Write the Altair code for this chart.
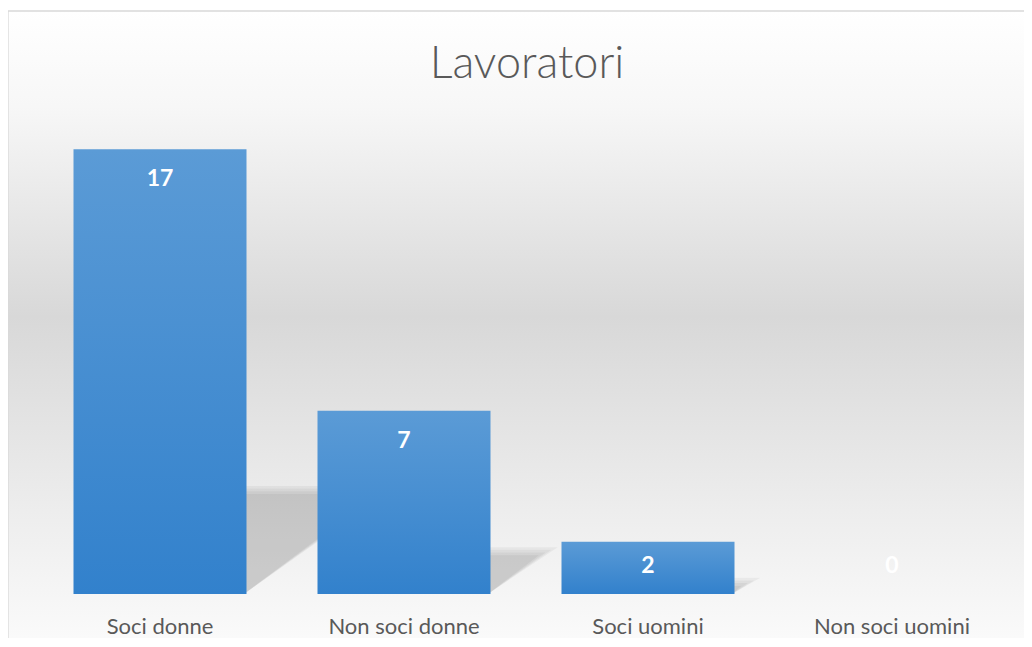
import altair as alt
import pandas as pd

# ---- data ----
categories = ["Soci donne", "Non soci donne", "Soci uomini", "Non soci uomini"]
values = [17, 7, 2, 0]
title_text = "Lavoratori"

# ---- layout constants ----
W, H = 976, 471
PAD_L, PAD_R, PAD_T, PAD_B = 30, 10, 115, 44
Y_MAX = 18
PAD_INNER = 0.291
PPU_Y = H / Y_MAX
PPU_X = W / len(categories)
SHADOW_RATIO = 0.234   # shadow depth relative to bar height
SHADOW_SLANT = 1.35    # horizontal run per unit of shadow depth
BLUR = [-4.0, -1.3, 1.3, 4.0]

df = pd.DataFrame({"cat": categories, "val": values})
# label placement: inside end, but kept above the floor for short bars
df["ly"] = [max(v - 30 / PPU_Y, 28 / PPU_Y) for v in values]

rows = []
for i, v in enumerate(values):
    if v <= 0:
        continue
    hpx = SHADOW_RATIO * v * PPU_Y
    xr = i + 0.5 + (1 - PAD_INNER) / 2
    for k, d in enumerate(BLUR):
        Hs = hpx + d
        if Hs <= 0:
            continue
        g = f"{i}-{k}"
        rows.append({"g": g, "sx": xr - 0.01, "sy": Hs / PPU_Y, "sy2": 0.0})
        rows.append({"g": g, "sx": xr + (d + SHADOW_SLANT * Hs) / PPU_X,
                     "sy": Hs / PPU_Y, "sy2": Hs / PPU_Y})
shadow_df = pd.DataFrame(rows)

yscale = alt.Scale(domain=[0, Y_MAX], nice=False, zero=True)
xband = alt.Scale(paddingInner=PAD_INNER, paddingOuter=PAD_INNER / 2)

bg_grad = alt.Gradient(
    gradient="linear", x1=0, x2=0, y1=0, y2=1,
    stops=[
        alt.GradientStop(color="#ffffff", offset=0),
        alt.GradientStop(color="#f7f7f7", offset=0.15),
        alt.GradientStop(color="#d8d8d8", offset=0.48),
        alt.GradientStop(color="#eeeeee", offset=0.8),
        alt.GradientStop(color="#fbfbfb", offset=1),
    ],
)
bar_grad = alt.Gradient(
    gradient="linear", x1=0, x2=0, y1=0, y2=1,
    stops=[
        alt.GradientStop(color="#5b9bd6", offset=0),
        alt.GradientStop(color="#3281cc", offset=1),
    ],
)

one = pd.DataFrame({"a": [0]})

background = alt.Chart(one).mark_rect(
    fill=bg_grad, stroke="#d9d9d9", strokeWidth=1.3
).encode(
    x=alt.value(-PAD_L), x2=alt.value(W + PAD_R + 10),
    y=alt.value(-112), y2=alt.value(H + PAD_B + 10),
)

title = alt.Chart(pd.DataFrame({"t": [title_text]})).mark_text(
    font="Lato", fontSize=45, fontWeight=300, color="#595959",
    baseline="alphabetic", align="center"
).encode(x=alt.value(W / 2 + 1), y=alt.value(-45), text="t:N")

shadows = alt.Chart(shadow_df).mark_area(color="#000000", opacity=0.045).encode(
    x=alt.X("sx:Q", scale=alt.Scale(domain=[0, len(categories)], nice=False, zero=False), axis=None),
    y=alt.Y("sy:Q", scale=yscale, axis=None),
    y2="sy2:Q",
    detail="g:N",
)

x_enc = alt.X(
    "cat:N", sort=categories, scale=xband, title=None,
    axis=alt.Axis(labelAngle=0, ticks=False, domain=False, labelFont="Lato",
                  labelFontSize=22, labelColor="#595959", labelPadding=39,
                  labelBaseline="alphabetic", zindex=1, grid=False),
)

bars = alt.Chart(df).mark_bar(fill=bar_grad).encode(
    x=x_enc,
    y=alt.Y("val:Q", scale=yscale, axis=None),
)

labels = alt.Chart(df).mark_text(
    color="white", font="Lato", fontWeight="bold", fontSize=23, baseline="middle"
).encode(
    x=alt.X("cat:N", sort=categories, scale=xband, axis=None),
    y=alt.Y("ly:Q", scale=yscale, axis=None),
    text="val:Q",
)

chart = alt.layer(background, title, shadows, bars, labels).resolve_scale(
    x="independent"
).properties(
    width=W, height=H,
    padding={"left": PAD_L, "right": PAD_R, "top": PAD_T, "bottom": PAD_B},
    autosize=alt.AutoSizeParams(type="none"),
).configure_view(stroke=None).configure(background="white")

chart.save("out.html", embed_options={"renderer": "svg", "actions": False})
